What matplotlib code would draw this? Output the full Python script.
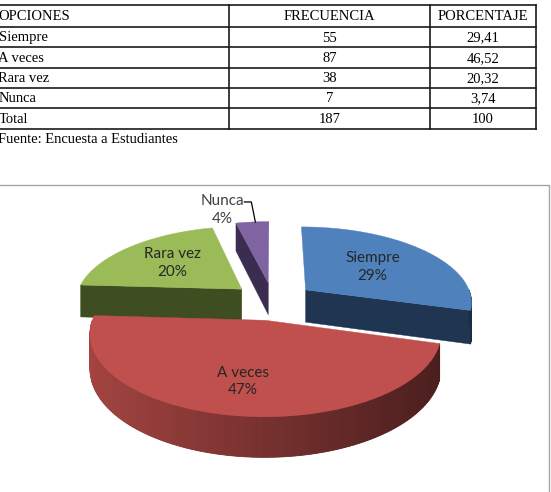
import numpy as np
import matplotlib
matplotlib.use("Agg")
import matplotlib.pyplot as plt
from matplotlib.patches import Polygon, Rectangle

# data
opciones = ["Siempre", "A veces", "Rara vez", "Nunca"]
frecuencia = [55, 87, 38, 7]
porcentaje = ["29,41", "46,52", "20,32", "3,74"]
headers = ["OPCIONES", "FRECUENCIA", "PORCENTAJE"]
fuente = "Fuente: Encuesta a Estudiantes"

top_colors = ["#4f81bd", "#c0504d", "#9bbb59", "#8064a2"]
face_colors = ["#1f3552", "#7a2f2d", "#3f4e20", "#3a2d4f"]

W, H = 551, 492
fig = plt.figure(figsize=(W / 100, H / 100), dpi=100)
ax = fig.add_axes([0, 0, 1, 1])
ax.set_xlim(0, W)
ax.set_ylim(H, 0)
ax.axis("off")

# ---------------- table ----------------
serif = "Liberation Serif"
col_x = [-3, 229, 430, 536]
row_y = [5, 27, 47, 67.5, 88, 108, 129]
for y in row_y:
    ax.plot([col_x[0], col_x[-1]], [y, y], color="#1a1a1a", lw=1.2)
for x in col_x[1:]:
    ax.plot([x, x], [row_y[0], row_y[-1]], color="#1a1a1a", lw=1.2)

rows = [headers] + [[o, str(f), p] for o, f, p in zip(opciones, frecuencia, porcentaje)]
rows.append(["Total", str(sum(frecuencia)), "100"])
for i, row in enumerate(rows):
    yc = (row_y[i] + row_y[i + 1]) / 2 + 1
    ax.text(col_x[0] + 1.5, yc, row[0], ha="left", va="center", family=serif, fontsize=10.5)
    ax.text((col_x[1] + col_x[2]) / 2, yc, row[1], ha="center", va="center", family=serif, fontsize=10.5)
    ax.text((col_x[2] + col_x[3]) / 2, yc, row[2], ha="center", va="center", family=serif, fontsize=10.5)
ax.text(col_x[0] + 1.5, 143, fuente, ha="left", va="baseline", family=serif, fontsize=10.5)

# chart frame
ax.add_patch(Rectangle((-5, 184.5), 554, 320, fill=False, ec="#a6a6a6", lw=1.0))

# ---------------- 3D pie ----------------
CX, CY = 273, 301
A, B, D, P = 167, 75.5, 33, 0.15
EXPL = 0.25


def proj(u, v, z=0.0):
    s = 1.0 / (1 - P * v)
    return CX + A * u * s, CY + (B * v + D * z) * s


def pt(ou, ov, phi, r=1.0, z=0.0):
    t = np.radians(phi)
    return proj(ou + r * np.sin(t), ov - r * np.cos(t), z)


total = sum(frecuencia)
fracs = np.array(frecuencia) / total
ends = np.cumsum(fracs) * 360
starts = ends - fracs * 360

slices = []
for i in range(len(fracs)):
    mid = np.radians((starts[i] + ends[i]) / 2)
    ou, ov = EXPL * np.sin(mid), -EXPL * np.cos(mid)
    slices.append((ov, i, ou))

for ov, i, ou in sorted(slices):
    p1, p2 = starts[i], ends[i]
    # radial cut faces facing the viewer
    for phi, nphi in ((p1, p1 - 90), (p2, p2 + 90)):
        if -np.cos(np.radians(nphi)) > 0.05:
            quad = [pt(ou, ov, phi, 0), pt(ou, ov, phi, 1), pt(ou, ov, phi, 1, 1), pt(ou, ov, phi, 0, 1)]
            ax.add_patch(Polygon(quad, closed=True, fc=face_colors[i], ec=face_colors[i], lw=0.3))
    # outer wall (front half only) with shading
    a0, a1 = max(p1, 90), min(p2, 270)
    if a1 > a0:
        n = int((a1 - a0) / 1.5) + 1
        angs = np.linspace(a0, a1, n + 1)
        base = np.array(matplotlib.colors.to_rgb(top_colors[i]))
        wall = [pt(ou, ov, a) for a in angs] + [pt(ou, ov, a, 1, 1) for a in angs[::-1]]
        ax.add_patch(Polygon(wall, closed=True, fc=base * 0.6, ec="none"))
        for k in range(n):
            xa = pt(ou, ov, angs[k])[0]
            f = np.clip((xa - 90) / 380, 0, 1)
            col = base * (0.85 - 0.5 * f)
            seg = [pt(ou, ov, angs[k]), pt(ou, ov, angs[k + 1]),
                   pt(ou, ov, angs[k + 1], 1, 1), pt(ou, ov, angs[k], 1, 1)]
            ax.add_patch(Polygon(seg, closed=True, fc=col, ec=col, lw=0.6))
    # top face
    arc = np.linspace(p1, p2, max(int(p2 - p1), 2) + 1)
    top = [pt(ou, ov, 0, 0)] + [pt(ou, ov, a) for a in arc]
    ax.add_patch(Polygon(top, closed=True, fc=top_colors[i], ec=top_colors[i], lw=0.3))

# labels
lab_font = "Lato"
lab_r = [0.55, 0.68, 0.6]
for k in range(3):
    ov, i, ou = [s for s in slices if s[1] == k][0]
    mid = (starts[i] + ends[i]) / 2
    x, y = pt(ou, ov, mid, lab_r[k])
    ax.text(x, y, "%s\n%d%%" % (opciones[i], round(fracs[i] * 100)), ha="center", va="center",
            family=lab_font, fontsize=11, color="#262626", linespacing=1.3)

# small slice: label outside with leader line
ov, i, ou = [s for s in slices if s[1] == 3][0]
mid = (starts[i] + ends[i]) / 2
rx, ry = pt(ou, ov, mid, 1)
ax.plot([rx + 3, rx - 1, rx - 8], [ry, ry - 20, ry - 20], color="#000000", lw=0.9)
ax.text(rx - 30, ry - 12, "%s\n%d%%" % (opciones[i], round(fracs[i] * 100)), ha="center", va="center",
        family=lab_font, fontsize=11, color="#404040", linespacing=1.3)

fig.savefig("out.png", dpi=100)
